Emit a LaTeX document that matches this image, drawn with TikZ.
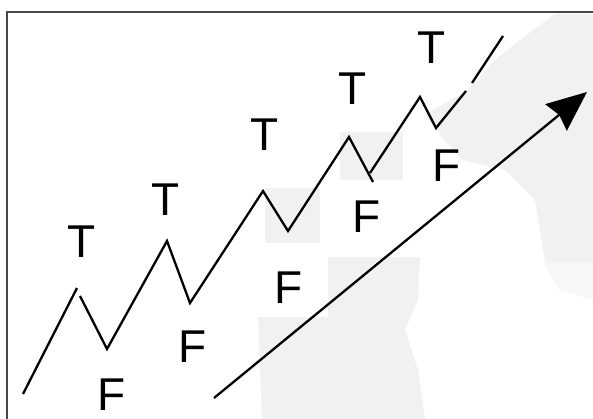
\documentclass[tikz,border=0pt]{standalone}
\usepackage{fontspec}
\setmainfont{Liberation Sans}
\usetikzlibrary{arrows.meta}
\begin{document}
\begin{tikzpicture}[x=1pt,y=-1pt,
  lbl/.style={inner sep=0pt,font=\fontsize{46}{46}\selectfont},
  zig/.style={line width=2.3pt,black,line join=miter,line cap=butt},
  patch/.style={fill=gray!11,draw=none},
  frameline/.style={line width=1.6pt,draw=black!72}]
\useasboundingbox (0,0) rectangle (593,419);
% background texture patches
\fill[patch] (265,188) rectangle (320,243);
\fill[patch] (340,132) rectangle (403,180);
\fill[patch] (328,257) -- (420,257) -- (418,300) -- (405,330) -- (418,370) -- (425,419) -- (262,419) -- (258,317) -- (328,317) -- cycle;
\fill[patch] (555,14) -- (593,14) -- (593,265) -- (545,262) -- (535,200) -- (505,170) -- (462,160) -- (440,135) -- (425,115) -- (468,90) -- (497,58) -- (520,40) -- (540,25) -- cycle;
\fill[gray!6] (543,262) -- (593,262) -- (593,300) -- (560,290) -- cycle;
% frame (top and left only)
\coordinate (fbl) at (7,419);
\coordinate (ftl) at (7,12);
\coordinate (ftr) at (593,12);
\draw[frameline] (fbl) -- (ftl) -- (ftr);
% zigzag points
\coordinate (s) at (23,394);
\coordinate (p1) at (77,288);
\coordinate (p1b) at (80,296);
\coordinate (t1) at (107,349);
\coordinate (p2) at (167,241);
\coordinate (t2) at (190,303);
\coordinate (p3) at (263,191);
\coordinate (t3) at (288,231);
\coordinate (p4) at (349,137);
\coordinate (t4) at (373,182);
\coordinate (t4b) at (370,173);
\coordinate (p5) at (420,97);
\coordinate (t5) at (436,128);
\coordinate (g1) at (466,91);
\coordinate (g2) at (472,83);
\coordinate (e) at (503,36);
\draw[zig] (s) -- (p1);
\draw[zig] (p1b) -- (t1) -- (p2) -- (t2) -- (p3) -- (t3) -- (p4) -- (t4);
\draw[zig] (t4b) -- (p5) -- (t5) -- (g1);
\draw[zig] (g2) -- (e);
% arrow
\coordinate (a0) at (214,398);
\coordinate (a1) at (587,92);
\draw[line width=2.3pt,-{Stealth[length=40pt,width=34pt,inset=4pt]}] (a0) -- (a1);
% labels
\node[lbl] (T1) at (82,242) {T};
\node[lbl] (T2) at (166,200) {T};
\node[lbl] (T3) at (265,135) {T};
\node[lbl] (T4) at (353,89) {T};
\node[lbl] (T5) at (432,48) {T};
\node[lbl] (F1) at (112,395) {F};
\node[lbl] (F2) at (193,347) {F};
\node[lbl] (F3) at (289,288) {F};
\node[lbl] (F4) at (367,217) {F};
\node[lbl] (F5) at (447,166) {F};
\end{tikzpicture}
\end{document}
